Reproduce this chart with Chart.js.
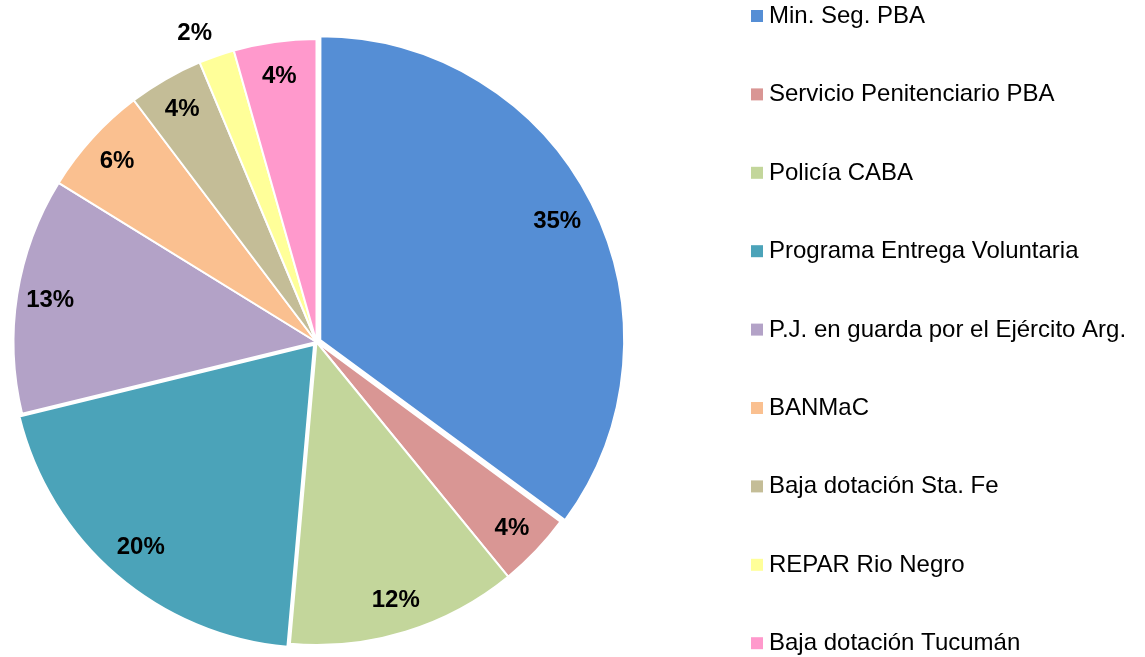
<!DOCTYPE html>
<html>
<head>
<meta charset="utf-8">
<script src="https://cdn.jsdelivr.net/npm/chart.js@4"></script>
<style>
  html, body { margin: 0; padding: 0; background: #fff; }
  #wrap { position: relative; width: 1145px; height: 657px; }
</style>
</head>
<body>
<div id="wrap"><canvas id="pie-chartcanvas"></canvas></div>
<script>
// data (share of total, %)
var labels = [
	"Min. Seg. PBA",
	"Servicio Penitenciario PBA",
	"Policía CABA",
	"Programa Entrega Voluntaria",
	"P.J. en guarda por el Ejército Arg.",
	"BANMaC",
	"Baja dotación Sta. Fe",
	"REPAR Rio Negro",
	"Baja dotación Tucumán"
];
var values = [35.1, 4.0, 12.3, 19.8, 12.6, 5.9, 4.0, 1.9, 4.4];
var colors = [
	"#558ED5",
	"#D99694",
	"#C3D69B",
	"#4BA3B9",
	"#B3A2C7",
	"#FAC090",
	"#C4BD97",
	"#FFFF99",
	"#FF99CC"
];
// exploded slices (chart.js draws offset/4)
var offsets = [17, 0, 0, 15, 0, 0, 0, 0, 0];

// percent labels on the slices, small ones go outside
var pctLabels = {
	id: "pctLabels",
	afterDatasetsDraw: function(chart) {
		var ctx = chart.ctx;
		var meta = chart.getDatasetMeta(0);
		var total = values.reduce(function(a, b) { return a + b; }, 0);
		ctx.save();
		ctx.font = "bold 24px 'Liberation Sans', Arial, sans-serif";
		ctx.fillStyle = "#000";
		meta.data.forEach(function(arc, i) {
			var p = arc.getProps(["x", "y", "startAngle", "endAngle", "outerRadius"], true);
			var mid = (p.startAngle + p.endAngle) / 2;
			var pct = values[i] / total * 100;
			var txt = Math.round(pct) + "%";
			if (pct < 3) {
				var r = p.outerRadius * 1.045;
				ctx.textAlign = Math.cos(mid) < 0 ? "right" : "left";
				ctx.textBaseline = Math.sin(mid) < 0 ? "bottom" : "top";
				ctx.fillText(txt, p.x + Math.cos(mid) * r, p.y + Math.sin(mid) * r + 2);
			} else {
				var r2 = p.outerRadius * 0.89;
				ctx.textAlign = "center";
				ctx.textBaseline = "middle";
				ctx.fillText(txt, p.x + Math.cos(mid) * r2, p.y + Math.sin(mid) * r2 + 1);
			}
		});
		ctx.restore();
	}
};

// legend on the right, one item per slice
var sideLegend = {
	id: "sideLegend",
	afterDraw: function(chart) {
		var ctx = chart.ctx;
		ctx.save();
		ctx.font = "24px 'Liberation Sans', Arial, sans-serif";
		ctx.textBaseline = "alphabetic";
		ctx.textAlign = "left";
		for (var i = 0; i < labels.length; i++) {
			var y = 15 + i * 78.4;
			ctx.fillStyle = colors[i];
			ctx.fillRect(751, y - 5, 12, 12);
			ctx.fillStyle = "#000";
			ctx.fillText(labels[i], 769, y + 8);
		}
		ctx.restore();
	}
};

var ctx = document.getElementById("pie-chartcanvas");
var chart = new Chart(ctx, {
	type: "pie",
	data: {
		labels: labels,
		datasets: [{
			data: values,
			backgroundColor: colors,
			borderColor: "#ffffff",
			borderWidth: 2,
			offset: offsets
		}]
	},
	options: {
		responsive: true,
		maintainAspectRatio: false,
		animation: false,
		layout: { padding: { left: 4, top: 29, bottom: 2, right: 516 } },
		plugins: {
			legend: { display: false },
			tooltip: { enabled: false }
		}
	},
	plugins: [pctLabels, sideLegend]
});
</script>
</body>
</html>
